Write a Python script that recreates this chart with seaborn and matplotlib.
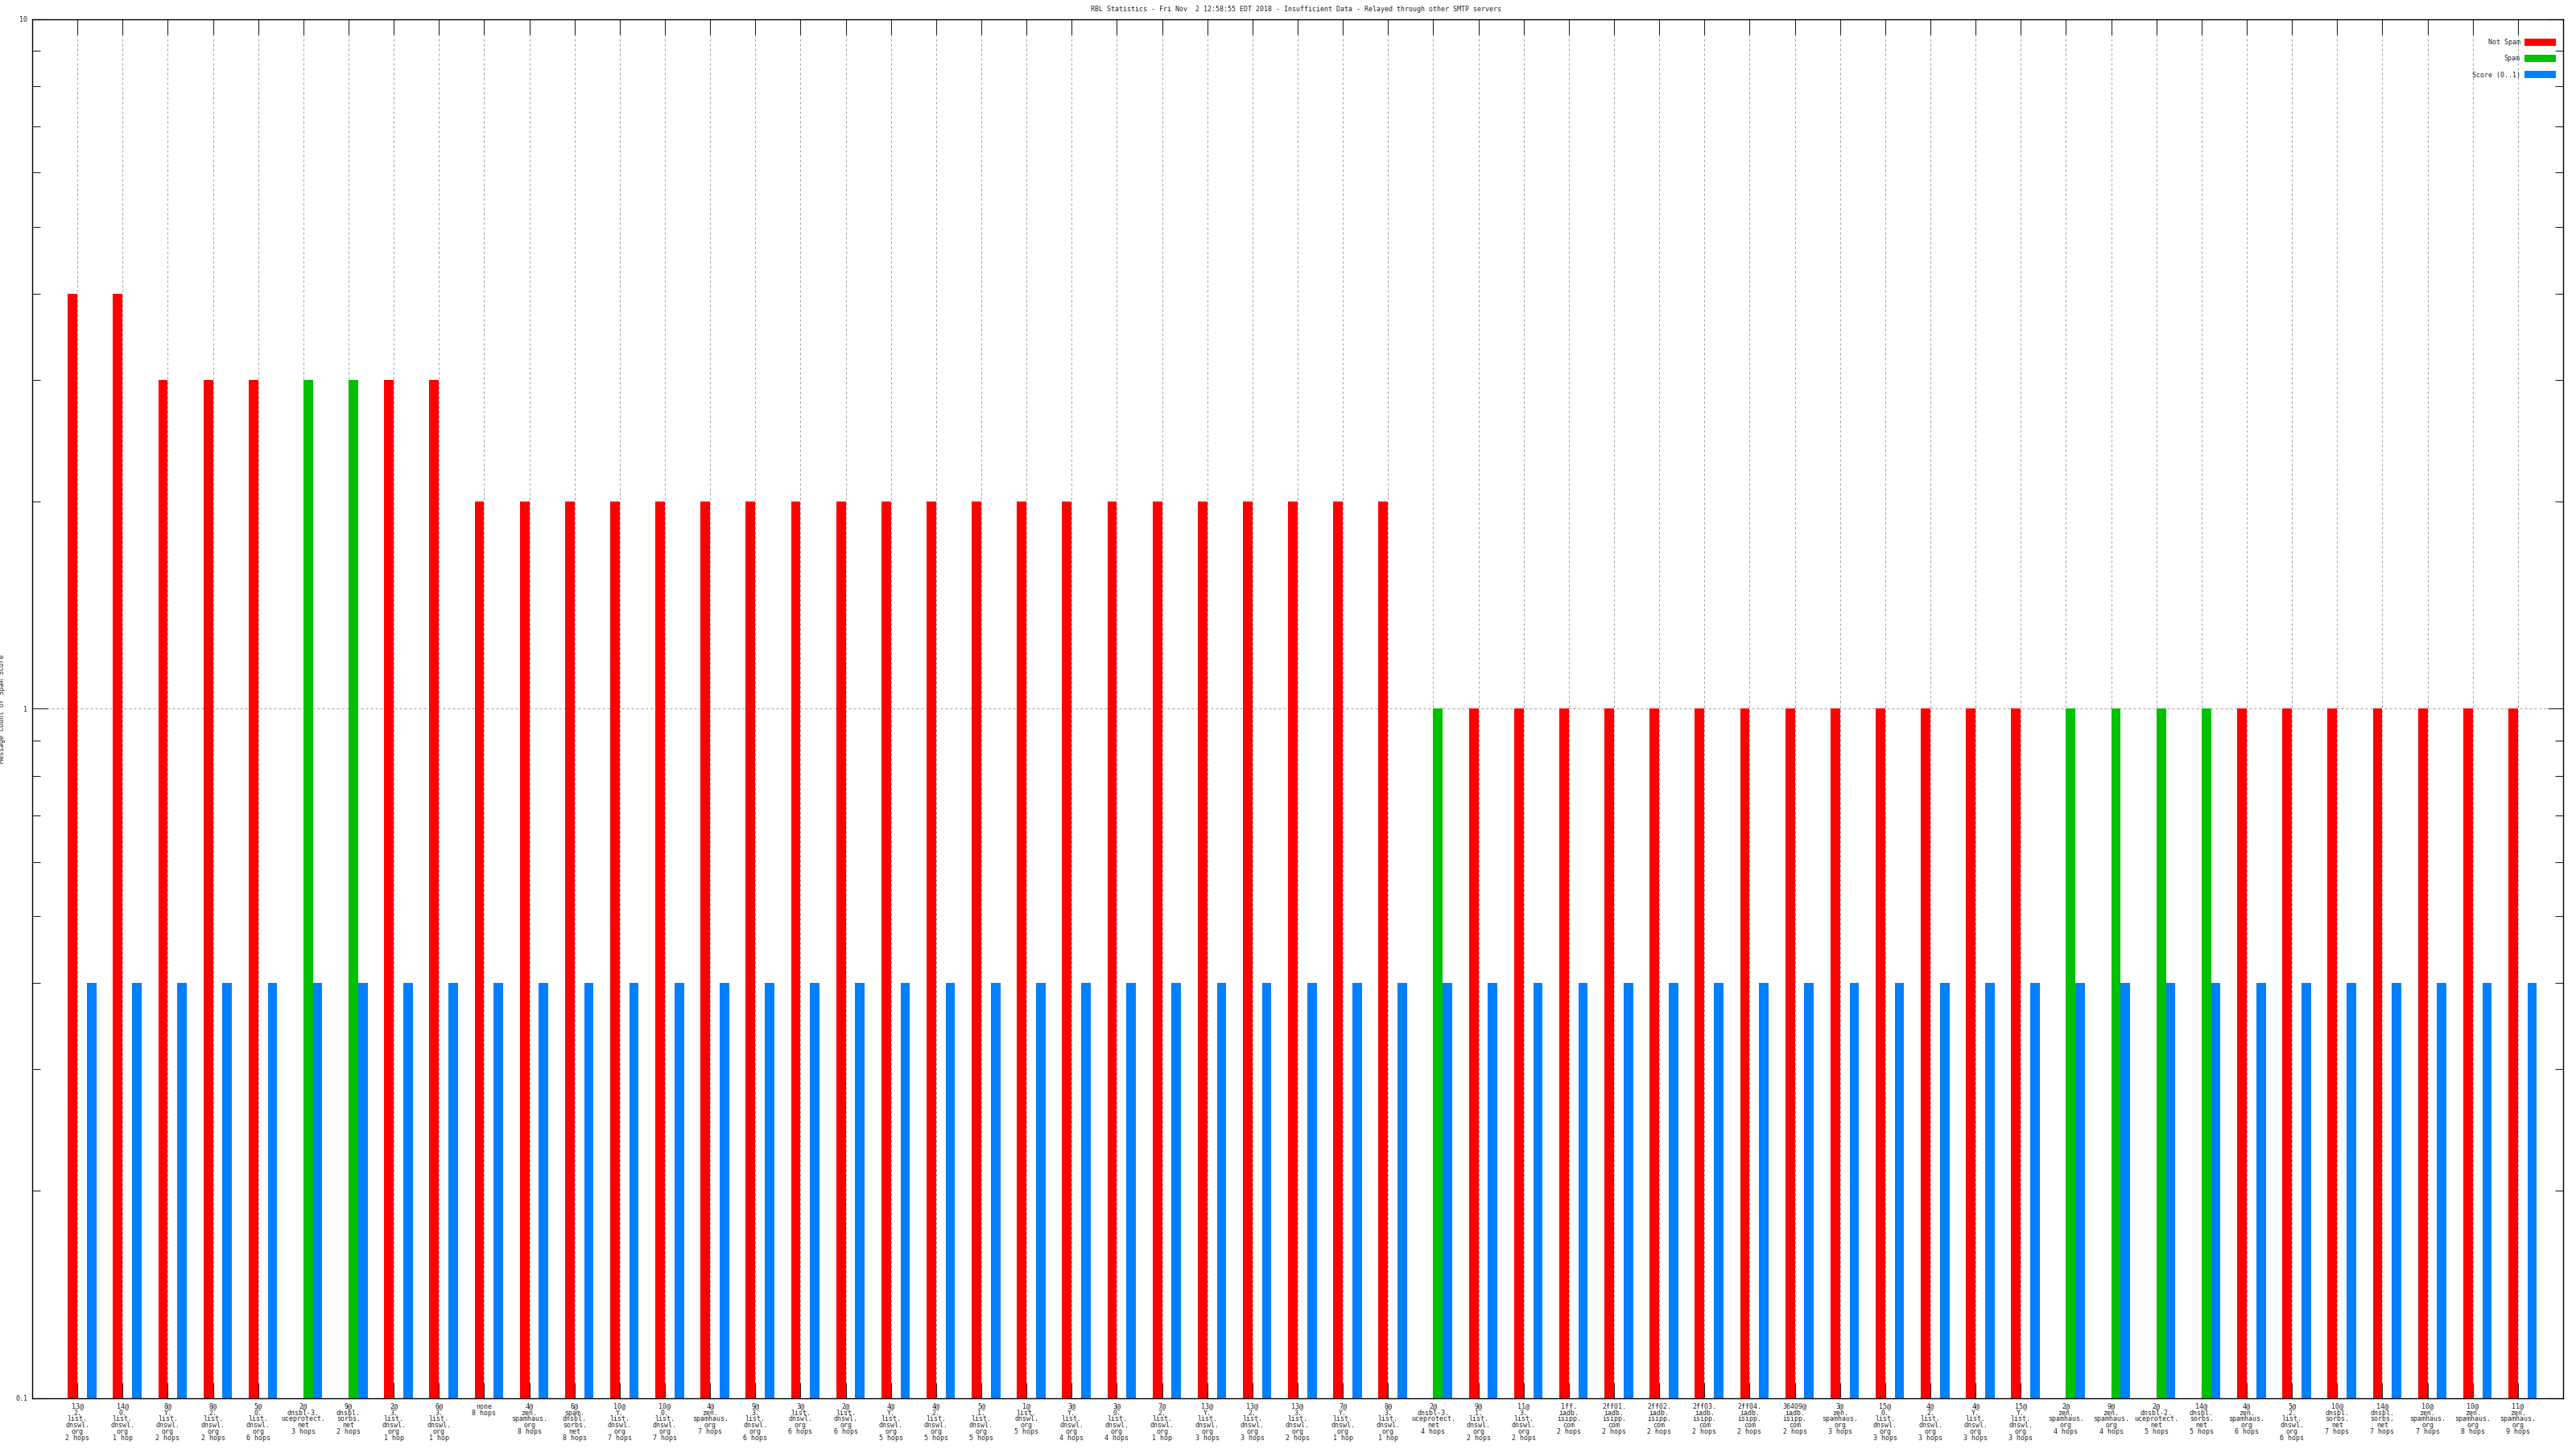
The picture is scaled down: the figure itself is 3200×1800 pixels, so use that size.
import numpy as np
import pandas as pd
import matplotlib
matplotlib.use('Agg')
import matplotlib.pyplot as plt
import seaborn as sns
from matplotlib.patches import Patch
from matplotlib.ticker import LogLocator, NullFormatter, FuncFormatter

N = np.nan

title = 'RBL Statistics - Fri Nov  2 12:58:55 EDT 2018 - Insufficient Data - Relayed through other SMTP servers'

hosts = [
    '13@2.list.dnswl.org', '14@0.list.dnswl.org', '8@Y.list.dnswl.org', '8@2.list.dnswl.org',
    '5@0.list.dnswl.org', '2@dnsbl-3.uceprotect.net', '9@dnsbl.sorbs.net', '2@3.list.dnswl.org',
    '6@3.list.dnswl.org', 'none', '4@zen.spamhaus.org', '6@spam.dnsbl.sorbs.net',
    '10@Y.list.dnswl.org', '10@0.list.dnswl.org', '4@zen.spamhaus.org', '9@3.list.dnswl.org',
    '3@list.dnswl.org', '2@list.dnswl.org', '4@Y.list.dnswl.org', '4@2.list.dnswl.org',
    '5@1.list.dnswl.org', '1@list.dnswl.org', '3@Y.list.dnswl.org', '3@0.list.dnswl.org',
    '7@2.list.dnswl.org', '13@Y.list.dnswl.org', '13@2.list.dnswl.org', '13@3.list.dnswl.org',
    '7@Y.list.dnswl.org', '8@3.list.dnswl.org', '2@dnsbl-3.uceprotect.net', '9@1.list.dnswl.org',
    '11@3.list.dnswl.org', '1ff.iadb.isipp.com', '2ff01.iadb.isipp.com', '2ff02.iadb.isipp.com',
    '2ff03.iadb.isipp.com', '2ff04.iadb.isipp.com', '36409@iadb.isipp.com', '3@zen.spamhaus.org',
    '15@0.list.dnswl.org', '4@2.list.dnswl.org', '4@Y.list.dnswl.org', '15@Y.list.dnswl.org',
    '2@zen.spamhaus.org', '9@zen.spamhaus.org', '2@dnsbl-2.uceprotect.net', '14@dnsbl.sorbs.net',
    '4@zen.spamhaus.org', '5@2.list.dnswl.org', '10@dnsbl.sorbs.net', '14@dnsbl.sorbs.net',
    '10@zen.spamhaus.org', '10@zen.spamhaus.org', '11@zen.spamhaus.org',
]
hops = [
    '2 hops', '1 hop', '2 hops', '2 hops', '6 hops', '3 hops', '2 hops', '1 hop',
    '1 hop', '8 hops', '8 hops', '8 hops', '7 hops', '7 hops', '7 hops', '6 hops',
    '6 hops', '6 hops', '5 hops', '5 hops', '5 hops', '5 hops', '4 hops', '4 hops',
    '1 hop', '3 hops', '3 hops', '2 hops', '1 hop', '1 hop', '4 hops', '2 hops',
    '2 hops', '2 hops', '2 hops', '2 hops', '2 hops', '2 hops', '2 hops', '3 hops',
    '3 hops', '3 hops', '3 hops', '3 hops', '4 hops', '4 hops', '5 hops', '5 hops',
    '6 hops', '6 hops', '7 hops', '7 hops', '7 hops', '8 hops', '9 hops',
]
not_spam = [
    4, 4, 3, 3, 3, N, N, 3, 3, 2, 2, 2, 2, 2, 2, 2, 2, 2, 2, 2,
    2, 2, 2, 2, 2, 2, 2, 2, 2, 2, N, 1, 1, 1, 1, 1, 1, 1, 1, 1,
    1, 1, 1, 1, N, N, N, N, 1, 1, 1, 1, 1, 1, 1,
]
spam = [
    N, N, N, N, N, 3, 3, N, N, N, N, N, N, N, N, N, N, N, N, N,
    N, N, N, N, N, N, N, N, N, N, 1, N, N, N, N, N, N, N, N, N,
    N, N, N, N, 1, 1, 1, 1, N, N, N, N, N, N, N,
]
score = [
    0.4, 0.4, 0.4, 0.4, 0.4, 0.4, 0.4, 0.4, 0.4, 0.4, 0.4, 0.4, 0.4, 0.4, 0.4, 0.4, 0.4, 0.4, 0.4, 0.4,
    0.4, 0.4, 0.4, 0.4, 0.4, 0.4, 0.4, 0.4, 0.4, 0.4, 0.4, 0.4, 0.4, 0.4, 0.4, 0.4, 0.4, 0.4, 0.4, 0.4,
    0.4, 0.4, 0.4, 0.4, 0.4, 0.4, 0.4, 0.4, 0.4, 0.4, 0.4, 0.4, 0.4, 0.4, 0.4,
]
series = ['Not Spam', 'Spam', 'Score (0..1)']
colors = ['#ff0000', '#00c000', '#0080ff']


def wrap_label(host, hop):
    txt = host.replace('@', '@\n').replace('.', '.\n')
    return txt + '\n' + hop


labels = [wrap_label(h, p) for h, p in zip(hosts, hops)]

rows = []
for i in range(len(hosts)):
    for name, vals in zip(series, [not_spam, spam, score]):
        rows.append({'slot': i, 'series': name, 'value': vals[i]})
df = pd.DataFrame(rows).dropna()

sns.set_style('white')
plt.rcParams['font.family'] = ['DejaVu Sans Mono']

fig = plt.figure(figsize=(32, 18), dpi=100)
ax = fig.add_axes([0.0125, 0.035, 0.9825, 0.95167])

bar_w = 0.63
sns.barplot(data=df, x='slot', y='value', hue='series', hue_order=series,
            order=list(range(len(hosts))), palette=colors, width=bar_w, gap=0,
            dodge=True, saturation=1, errorbar=None, linewidth=0, legend=False, ax=ax)
for p in ax.patches:
    p.set_zorder(3)

ax.set_yscale('log')
ax.set_ylim(0.1, 10)
ax.set_xlim(-1 - bar_w / 6, len(hosts) - 1 - bar_w / 6 + 1)
ax.yaxis.set_major_locator(LogLocator(base=10))
ax.yaxis.set_major_formatter(FuncFormatter(lambda v, p: f'{v:g}'))
ax.yaxis.set_minor_locator(LogLocator(base=10, subs=np.arange(2, 10)))
ax.yaxis.set_minor_formatter(NullFormatter())

ax.set_xticks(np.arange(len(hosts)) - bar_w / 6)
ax.set_xticklabels(labels, fontsize=6, linespacing=0.85)
ax.set_xlabel('')
ax.set_ylabel('Message Count or Spam Score', fontsize=6)
ax.yaxis.set_label_coords(-0.0105, 0.5)

ax.tick_params(axis='x', which='major', direction='in', length=13.7, width=0.8,
               top=True, bottom=True, labelsize=6, pad=4)
ax.tick_params(axis='y', which='major', direction='in', length=13.7, width=0.8,
               left=True, right=True, labelsize=6, pad=4)
ax.tick_params(axis='y', which='minor', direction='in', length=7.2, width=0.8,
               left=True, right=True)

ax.set_axisbelow(True)
ax.grid(True, which='major', axis='both', color='#a0a0a0',
        linestyle=(0, (3, 3)), linewidth=0.72)
for sp in ax.spines.values():
    sp.set_visible(True)
    sp.set_color('black')
    sp.set_linewidth(1.0)
    sp.set_zorder(4)

handles = [Patch(facecolor=c, edgecolor='none', label=s) for s, c in zip(series, colors)]
ax.legend(handles=handles, loc='upper right', bbox_to_anchor=(0.9971, 0.986),
          frameon=False, markerfirst=False, handlelength=4.7, handleheight=1.3,
          labelspacing=1.3, handletextpad=0.6, borderpad=0, borderaxespad=0, fontsize=6)

fig.text(1610 / 3200, 1 - 11 / 1800, title, ha='center', va='center', fontsize=6)

fig.savefig('out.png', dpi=100)
